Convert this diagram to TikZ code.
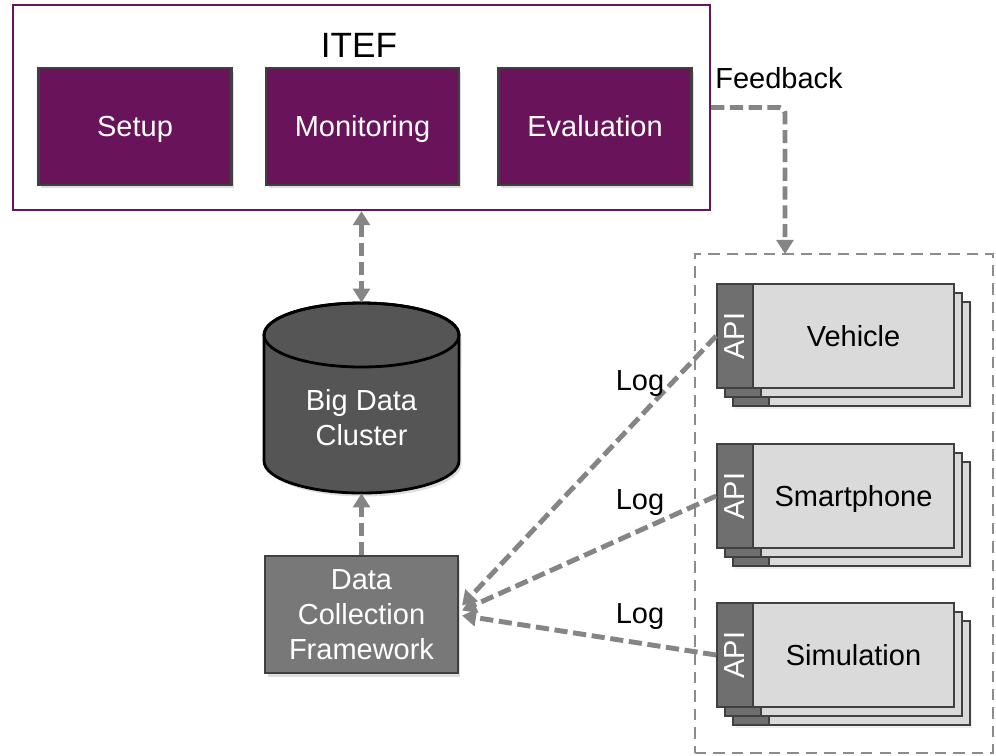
\documentclass[tikz,border=0pt]{standalone}
\usepackage{fontspec}
\setmainfont{Liberation Sans}
\usepackage{graphicx}
\usetikzlibrary{arrows.meta,shadows,calc}

\definecolor{itefpurple}{HTML}{69135A}
\definecolor{flowgray}{HTML}{858585}
\definecolor{boxedge}{HTML}{404040}
\definecolor{apigray}{HTML}{6F6F6F}
\definecolor{cardgray}{HTML}{DADADA}
\definecolor{dbgray}{HTML}{555555}
\definecolor{dcfgray}{HTML}{787878}
\definecolor{framegray}{HTML}{8C8C8C}

\tikzset{
  lbl/.style={font=\fontsize{16.5}{20}\selectfont},
  capcentred/.style={text height=11.8pt, text depth=0pt},
  softshadow/.style={drop shadow={opacity=0.25, shadow xshift=0.05cm, shadow yshift=-0.07cm}},
  faintshadow/.style={drop shadow={opacity=0.12, shadow xshift=0.04cm, shadow yshift=-0.05cm}},
  module/.style={lbl, capcentred, draw=boxedge, line width=1.2pt, fill=itefpurple, text=white,
    minimum width=3.86cm, minimum height=2.34cm, inner sep=0pt, softshadow},
  itefframe/.style={draw=itefpurple, line width=1.3pt, minimum width=13.94cm,
    minimum height=4.1cm, inner sep=0pt},
  flow/.style={draw=flowgray, line width=2.8pt, dash pattern=on 7.5pt off 3.2pt},
  flowtip/.style={-{Triangle[length=8pt,width=9.5pt]}},
  bothtips/.style={{Triangle[length=8pt,width=9.5pt]}-{Triangle[length=8pt,width=9.5pt]}},
  cardline/.style={draw=boxedge, line width=1pt},
  cardbody/.style={lbl, capcentred, cardline, fill=cardgray, minimum width=4.02cm,
    minimum height=2.08cm, inner sep=0pt},
  apistrip/.style={lbl, cardline, fill=apigray, text=white, minimum width=0.72cm,
    minimum height=2.08cm, inner sep=0pt},
}

% a stack of three device cards, each with an API strip on its left side
\newcommand\devicestack[3]{%
  \draw[cardline, fill=cardgray, faintshadow] (733,#2-34) rectangle (970,#2+70);
  \draw[cardline, fill=apigray] (733,#2-34) rectangle (769,#2+70);
  \draw[cardline, fill=cardgray] (725,#2-43) rectangle (962,#2+61);
  \draw[cardline, fill=apigray] (725,#2-43) rectangle (761,#2+61);
  \node[apistrip] (#1api) at (735,#2) {\rotatebox{90}{API}};
  \node[cardbody] (#1) at (853.5,#2) {#3};
}

\begin{document}
\begin{tikzpicture}[x=0.02cm, y=-0.02cm]
  \fill[white] (0,0) rectangle (996,755);
  \useasboundingbox (0,0) rectangle (996,755);

  % ITEF frame with its three modules
  \node[itefframe] (itef) at (361.5,107.5) {};
  \node[font=\fontsize{20}{24}\selectfont] (iteftitle) at (359,45) {ITEF};
  \node[module] (setup) at (135,126.5) {Setup};
  \node[module] (monitoring) at (362.5,126.5) {Monitoring};
  \node[module] (evaluation) at (595,126.5) {Evaluation};

  % big data cluster drawn as a cylinder
  \draw[black, line width=1.6pt, fill=dbgray, softshadow]
    (264,335) -- (264,461)
    arc[start angle=180, end angle=360, x radius=1.95cm, y radius=0.64cm]
    -- (459,335)
    arc[start angle=0, end angle=180, x radius=1.95cm, y radius=0.64cm] -- cycle;
  \draw[black, line width=1.6pt] (361.5,335) ellipse [x radius=1.95cm, y radius=0.64cm];
  \node[minimum width=3.9cm, minimum height=3.8cm, inner sep=0pt] (db) at (361.5,398) {};
  \node[lbl, text=white, align=center] (dblabel) at (361.5,418) {Big Data\\Cluster};

  % data collection framework
  \node[lbl, draw=boxedge, line width=1.2pt, fill=dcfgray, text=white, align=center,
    minimum width=3.86cm, minimum height=2.34cm, inner sep=0pt, softshadow]
    (dcf) at (361.5,614.5) {Data\\Collection\\Framework};

  % device container and device stacks
  \node[draw=framegray, line width=1.1pt, dash pattern=on 6.5pt off 4pt,
    minimum width=5.96cm, minimum height=9.98cm, inner sep=0pt] (devices) at (844,503.5) {};
  \devicestack{vehicle}{336}{Vehicle}
  \devicestack{smartphone}{496}{Smartphone}
  \devicestack{simulation}{655}{Simulation}

  % connectors
  \draw[flow, bothtips] (itef.south) -- (db.north);
  \draw[flow, flowtip] (dcf.north) -- (db.south);

  \coordinate (fbdrop) at (785,254);
  \draw[flow, flowtip, rounded corners=3pt] (itef.east) -| (fbdrop);
  \node[lbl] (fblabel) at (779,78) {Feedback};

  \draw[flow, flowtip] (vehicleapi.west) -- ($(dcf.east)+(3,-9)$);
  \draw[flow, flowtip] (smartphoneapi.west) -- ($(dcf.east)+(3,-4)$);
  \draw[flow, flowtip] (simulationapi.west) -- ($(dcf.east)+(3,1)$);
  \node[lbl] (log1) at (640,384) {Log};
  \node[lbl] (log2) at (640,503) {Log};
  \node[lbl] (log3) at (640,617) {Log};
\end{tikzpicture}
\end{document}
